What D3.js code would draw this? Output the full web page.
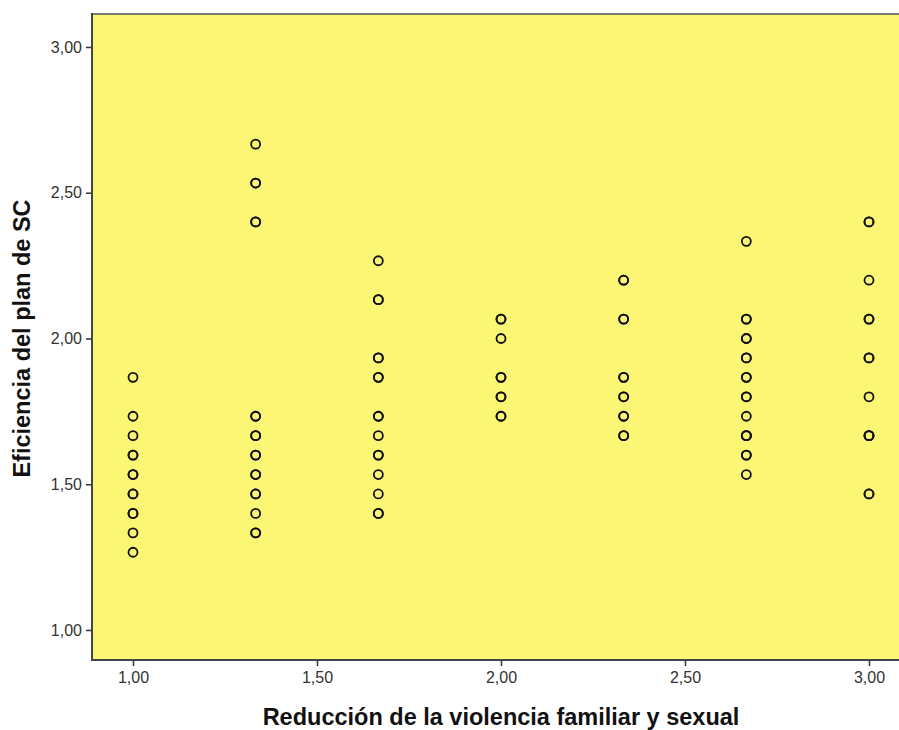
<!DOCTYPE html>
<html>
<head>
<meta charset="utf-8">
<script src="https://cdn.jsdelivr.net/npm/d3@7"></script>
<style>
  html, body { margin: 0; padding: 0; background: #ffffff; }
  svg { display: block; }
</style>
</head>
<body>
<div id="chart"></div>
<script>
// ---- Data ----
// x category of each column (Reducción de la violencia familiar y sexual)
const columnX = [1.0, 1.3333, 1.6667, 2.0, 2.3333, 2.6667, 3.0];
// y values in each column (Eficiencia del plan de SC); repeated values = overlapping cases
const col1 = [1.8667, 1.7333, 1.6667, 1.6, 1.6, 1.5333, 1.5333, 1.4667, 1.4667, 1.4, 1.4, 1.3333, 1.2667];
const col2 = [2.6667, 2.5333, 2.5333, 2.4, 2.4, 1.7333, 1.7333, 1.6667, 1.6667, 1.6, 1.6, 1.5333, 1.5333, 1.4667, 1.4667, 1.4, 1.3333, 1.3333];
const col3 = [2.2667, 2.1333, 2.1333, 1.9333, 1.9333, 1.8667, 1.8667, 1.7333, 1.7333, 1.6667, 1.6, 1.6, 1.5333, 1.4667, 1.4, 1.4];
const col4 = [2.0667, 2.0667, 2.0, 1.8667, 1.8667, 1.8, 1.8, 1.7333, 1.7333];
const col5 = [2.2, 2.2, 2.0667, 2.0667, 1.8667, 1.8667, 1.8, 1.8, 1.7333, 1.7333, 1.6667, 1.6667];
const col6 = [2.3333, 2.0667, 2.0667, 2.0, 2.0, 1.9333, 1.9333, 1.8667, 1.8667, 1.8, 1.8, 1.7333, 1.6667, 1.6667, 1.6667, 1.6, 1.6, 1.5333];
const col7 = [2.4, 2.4, 2.2, 2.0667, 2.0667, 1.9333, 1.9333, 1.8, 1.6667, 1.6667, 1.6667, 1.4667, 1.4667];
const columnValues = [col1, col2, col3, col4, col5, col6, col7];

const xTicks = [1.0, 1.5, 2.0, 2.5, 3.0];
const yTicks = [1.0, 1.5, 2.0, 2.5, 3.0];
const xTickLabels = ["1,00", "1,50", "2,00", "2,50", "3,00"];
const yTickLabels = ["1,00", "1,50", "2,00", "2,50", "3,00"];
const xTitle = "Reducción de la violencia familiar y sexual";
const yTitle = "Eficiencia del plan de SC";

// ---- Layout ----
const W = 899, H = 730;
const plot = { left: 92, top: 14, right: 901, bottom: 660 };

const svg = d3.select("#chart").append("svg")
  .attr("width", W).attr("height", H);

const x = d3.scaleLinear().domain([1, 3]).range([133, 869]);
const y = d3.scaleLinear().domain([1, 3]).range([630, 47]);

// plot background
svg.append("rect")
  .attr("x", plot.left).attr("y", plot.top)
  .attr("width", plot.right - plot.left).attr("height", plot.bottom - plot.top)
  .attr("fill", "#fbf674");

// top border
svg.append("line")
  .attr("x1", plot.left).attr("x2", plot.right)
  .attr("y1", plot.top).attr("y2", plot.top)
  .attr("stroke", "#7a7a70").attr("stroke-width", 2);

const font = "'Liberation Sans', Arial, sans-serif";

// x axis
const xAxis = d3.axisBottom(x)
  .tickValues(xTicks)
  .tickFormat((d, i) => xTickLabels[i])
  .tickSizeInner(6).tickSizeOuter(0).tickPadding(6);
const gx = svg.append("g").attr("transform", `translate(0,${plot.bottom})`).call(xAxis);
gx.select(".domain").remove();
gx.selectAll(".tick line").attr("stroke", "#333").attr("stroke-width", 1.5);
gx.selectAll(".tick text").attr("fill", "#333").style("font-family", font).style("font-size", "16px");

// y axis
const yAxis = d3.axisLeft(y)
  .tickValues(yTicks)
  .tickFormat((d, i) => yTickLabels[i])
  .tickSizeInner(6).tickSizeOuter(0).tickPadding(4);
const gy = svg.append("g").attr("transform", `translate(${plot.left},0)`).call(yAxis);
gy.select(".domain").remove();
gy.selectAll(".tick line").attr("stroke", "#333").attr("stroke-width", 1.5);
gy.selectAll(".tick text").attr("fill", "#333").style("font-family", font).style("font-size", "16px");

// axis lines
svg.append("line")
  .attr("x1", plot.left).attr("x2", plot.left)
  .attr("y1", plot.top - 1).attr("y2", plot.bottom + 1)
  .attr("stroke", "#444").attr("stroke-width", 2);
svg.append("line")
  .attr("x1", plot.left - 1).attr("x2", plot.right)
  .attr("y1", plot.bottom).attr("y2", plot.bottom)
  .attr("stroke", "#444").attr("stroke-width", 2);

// points
const points = [];
columnValues.forEach((vals, i) => vals.forEach(v => points.push({ x: columnX[i], y: v })));
svg.append("g").selectAll("circle")
  .data(points).join("circle")
  .attr("cx", d => x(d.x)).attr("cy", d => y(d.y))
  .attr("r", 4.5)
  .attr("fill", "none")
  .attr("stroke", "#111")
  .attr("stroke-width", 1.8);

// titles
svg.append("text")
  .attr("x", x(2)).attr("y", 725)
  .attr("text-anchor", "middle")
  .style("font-family", font).style("font-size", "23.5px").style("font-weight", "bold")
  .attr("fill", "#111")
  .text(xTitle);

svg.append("text")
  .attr("transform", `translate(30,${y(2)}) rotate(-90)`)
  .attr("text-anchor", "middle")
  .style("font-family", font).style("font-size", "23.5px").style("font-weight", "bold")
  .attr("fill", "#111")
  .text(yTitle);
</script>
</body>
</html>
